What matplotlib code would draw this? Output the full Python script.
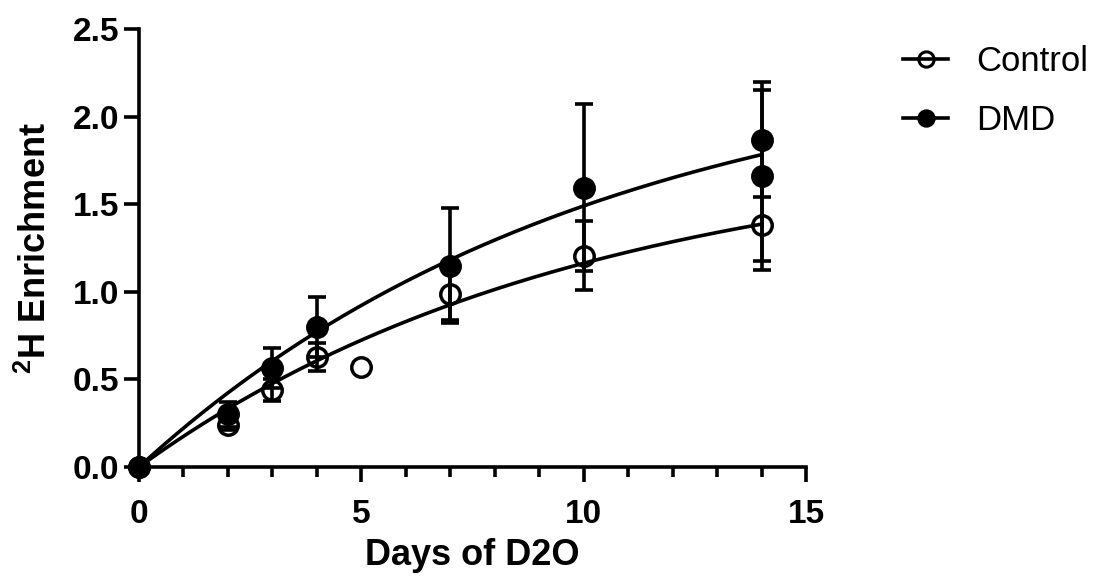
import numpy as np
import matplotlib
matplotlib.use("Agg")
import matplotlib.pyplot as plt
from matplotlib.lines import Line2D

plt.rcParams['font.family'] = ['Liberation Sans', 'DejaVu Sans']
plt.rcParams['mathtext.fontset'] = 'custom'
plt.rcParams['mathtext.rm'] = 'Liberation Sans'
plt.rcParams['mathtext.bf'] = 'Liberation Sans:bold'

# Control group (open circles), mean and SD
ctrl_days = [0, 2, 3, 4, 5, 7, 10, 14]
ctrl_mean = [0.0, 0.24, 0.44, 0.63, 0.57, 0.99, 1.205, 1.383]
ctrl_sd = [0.0, 0.03, 0.065, 0.08, 0.0, 0.15, 0.197, 0.257]

# DMD group (filled circles), mean and SD
dmd_days = [0, 2, 3, 4, 7, 10, 14, 14]
dmd_mean = [0.0, 0.30, 0.565, 0.80, 1.15, 1.595, 1.869, 1.663]
dmd_sd = [0.0, 0.07, 0.115, 0.17, 0.33, 0.475, 0.33, 0.49]

# one-phase association fits: y = plateau * (1 - exp(-k * x))
ctrl_plateau, ctrl_k = 1.84, 0.100
dmd_plateau, dmd_k = 2.40, 0.097
fit_end = 14

LW = 2.6

fig = plt.figure(figsize=(10.99, 5.88), dpi=100)
ax = fig.add_axes([139 / 1099, 1 - 467 / 588, (806 - 139) / 1099, (467 - 29) / 588])

xs = np.linspace(0, fit_end, 200)
ax.plot(xs, ctrl_plateau * (1 - np.exp(-ctrl_k * xs)), color='black', lw=LW, zorder=2)
ax.plot(xs, dmd_plateau * (1 - np.exp(-dmd_k * xs)), color='black', lw=LW, zorder=2)


def draw_group(days, mean, sd, face):
    days = np.array(days, dtype=float)
    mean = np.array(mean)
    sd = np.array(sd)
    has_err = sd > 0
    ax.errorbar(days[has_err], mean[has_err], yerr=sd[has_err], fmt='none',
                ecolor='black', elinewidth=LW, capsize=6.5, capthick=LW,
                zorder=3, clip_on=False)
    ax.plot(days, mean, linestyle='none', marker='o', markersize=14,
            markerfacecolor=face, markeredgecolor='black', markeredgewidth=2.5,
            zorder=4, clip_on=False)


draw_group(ctrl_days, ctrl_mean, ctrl_sd, 'none')
draw_group(dmd_days, dmd_mean, dmd_sd, 'black')

ax.set_xlim(0, 15)
ax.set_ylim(0, 2.5)
ax.set_xticks([0, 5, 10, 15])
ax.set_xticks(np.arange(0, 16, 1), minor=True)
ax.set_yticks([0, 0.5, 1.0, 1.5, 2.0, 2.5])
ax.set_yticklabels(['0.0', '0.5', '1.0', '1.5', '2.0', '2.5'])

for side in ['top', 'right']:
    ax.spines[side].set_visible(False)
for side in ['left', 'bottom']:
    ax.spines[side].set_linewidth(LW)

ax.tick_params(axis='both', which='major', length=11, width=LW, labelsize=24)
ax.tick_params(axis='x', which='minor', length=7, width=LW)
ax.tick_params(axis='x', which='major', pad=12)
ax.tick_params(axis='y', which='major', pad=3)
for lab in ax.get_xticklabels() + ax.get_yticklabels():
    lab.set_fontweight('bold')

ax.set_xlabel('Days of D2O', fontsize=26, fontweight='bold', labelpad=6)
ax.set_ylabel(r'$\mathbf{^{2}}$H Enrichment', fontsize=26, fontweight='bold', labelpad=14)

handles = [
    Line2D([], [], color='black', lw=LW, marker='o', markersize=11,
           markerfacecolor='none', markeredgewidth=2.2),
    Line2D([], [], color='black', lw=LW, marker='o', markersize=11,
           markerfacecolor='black', markeredgewidth=2.2),
]
fig.legend(handles, ['Control', 'DMD'], loc='upper left',
           bbox_to_anchor=(872 / 1099, 1 - 14 / 588), frameon=False,
           fontsize=25, handlelength=1.3, handletextpad=0.8, labelspacing=0.75)

fig.savefig('out.png', dpi=100)
